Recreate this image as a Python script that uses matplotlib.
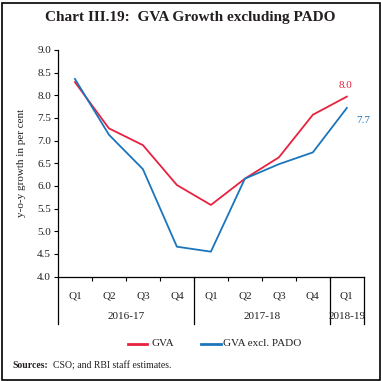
import matplotlib
matplotlib.use("Agg")
import matplotlib.pyplot as plt
from matplotlib.lines import Line2D
from matplotlib.patches import Rectangle

plt.rcParams['font.family'] = ['Liberation Serif', 'DejaVu Serif']

quarters = ["Q1", "Q2", "Q3", "Q4", "Q1", "Q2", "Q3", "Q4", "Q1"]
years = ["2016-17", "2017-18", "2018-19"]
year_sizes = [4, 4, 1]
gva = [8.29, 7.27, 6.90, 6.02, 5.58, 6.16, 6.63, 7.57, 7.97]
gva_ex = [8.36, 7.13, 6.37, 4.66, 4.55, 6.16, 6.48, 6.74, 7.72]
red = "#E8213F"
blue = "#1B75BC"
tc = "#231F20"
fs = 8

fig = plt.figure(figsize=(3.81, 3.81), dpi=100)
ax = fig.add_axes([0.152, 0.274, 0.803, 0.595])

x = list(range(len(quarters)))
ax.plot(x, gva, color=red, lw=1.3)
ax.plot(x, gva_ex, color=blue, lw=1.3)

ax.set_xlim(-0.5, len(quarters) - 0.5)
ax.set_ylim(4.0, 9.0)
yt = [4.0 + 0.5 * i for i in range(11)]
ax.set_yticks(yt)
ax.set_yticklabels([f"{v:.1f}" for v in yt], fontsize=fs, color=tc)
ax.set_xticks([i + 0.5 for i in range(len(quarters) - 1)])
ax.set_xticklabels([])
ax.tick_params(axis='x', length=3, width=0.8, direction='out')
ax.tick_params(axis='y', length=3, width=0.8, direction='out', pad=2)
for s in ['top', 'right']:
    ax.spines[s].set_visible(False)
for s in ['left', 'bottom']:
    ax.spines[s].set_linewidth(0.9)
ax.set_ylabel("y-o-y growth in per cent", fontsize=fs, color=tc, labelpad=8)

trans = ax.get_xaxis_transform()
for i, q in enumerate(quarters):
    ax.text(i, -0.085, q, transform=trans, ha='center', va='center', fontsize=fs, color=tc)

bounds = [-0.5]
for n in year_sizes:
    bounds.append(bounds[-1] + n)
for b in bounds:
    ax.add_line(Line2D([b, b], [0, -0.21], transform=trans, color='black', lw=0.9, clip_on=False))
for i, yname in enumerate(years):
    c = (bounds[i] + bounds[i + 1]) / 2
    ax.text(c, -0.175, yname, transform=trans, ha='center', va='center', fontsize=fs, color=tc)

ax.annotate(f"{gva[-1]:.1f}", (x[-1], gva[-1]), xytext=(-1, 5), textcoords='offset points',
            ha='center', va='bottom', fontsize=fs, color=red)
ax.annotate(f"{gva_ex[-1]:.1f}", (x[-1], gva_ex[-1]), xytext=(7, -9), textcoords='offset points',
            ha='left', va='center', fontsize=fs, color=blue)

# legend
ly = 1 - 344 / 381
fig.add_artist(Line2D([128 / 381, 147 / 381], [ly, ly], color=red, lw=2))
fig.text(152 / 381, ly, "GVA", fontsize=fs, va='center', color=tc)
fig.add_artist(Line2D([201 / 381, 221 / 381], [ly, ly], color=blue, lw=2))
fig.text(223 / 381, ly, "GVA excl. PADO", fontsize=fs, va='center', color=tc)

fig.text(12 / 381, 1 - 366 / 381, "Sources:", fontsize=7, fontweight='bold', va='center', color=tc)
fig.text(53 / 381, 1 - 366 / 381, "CSO; and RBI staff estimates.", fontsize=7, va='center', color=tc)

fig.text(0.5, 1 - 18 / 381, "Chart III.19:  GVA Growth excluding PADO", fontsize=11,
         fontweight='bold', ha='center', va='center', color=tc)

fig.add_artist(Rectangle((1.5 / 381, 1.5 / 381), 378 / 381, 377 / 381, fill=False,
                         edgecolor='black', lw=1.2, transform=fig.transFigure))

fig.savefig("out.png", dpi=100)
